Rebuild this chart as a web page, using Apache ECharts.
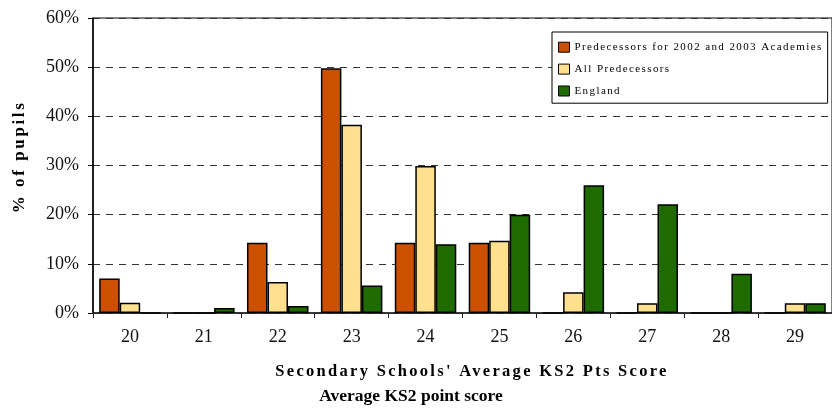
<!DOCTYPE html>
<html>
<head>
<meta charset="utf-8">
<script src="https://cdn.jsdelivr.net/npm/echarts@6/dist/echarts.min.js"></script>
<style>
  html, body { margin: 0; padding: 0; background: #fff; }
  #chart { width: 832px; height: 411px; }
</style>
</head>
<body>
<div id="chart"></div>
<script>
// Spaced-out lettering for the legend and the axis titles, keyed on font size.
(function () {
  const spacingBySize = { '11': '1.4px', '16.5': '2.3px', '17': '2.6px' };
  const proto = CanvasRenderingContext2D.prototype;
  if (!('letterSpacing' in proto)) return;
  const applySpacing = function (ctx) {
    const m = /(\d+(?:\.\d+)?)px/.exec(ctx.font);
    ctx.letterSpacing = (m && spacingBySize[m[1]]) || '0px';
  };
  const fill = proto.fillText, stroke = proto.strokeText, measure = proto.measureText;
  proto.fillText = function () { applySpacing(this); return fill.apply(this, arguments); };
  proto.strokeText = function () { applySpacing(this); return stroke.apply(this, arguments); };
  proto.measureText = function () { applySpacing(this); return measure.apply(this, arguments); };
})();

// KS2 average point score bands
const categories = ['20', '21', '22', '23', '24', '25', '26', '27', '28', '29'];

// % of pupils in each band
const predecessors0203 = [7.0, 0, 14.3, 49.8, 14.3, 14.3, 0, 0, 0, 0];
const allPredecessors  = [2.1, 0, 6.3, 38.3, 29.9, 14.7, 4.2, 2.0, 0, 2.0];
const england          = [0, 1.0, 1.4, 5.6, 14.0, 20.0, 26.0, 22.1, 8.0, 2.0];

const seriesNames = [
  'Predecessors for 2002 and 2003 Academies',
  'All Predecessors',
  'England'
];
const seriesColors = ['#CC5000', '#FFE08F', '#1E6B00'];

const yTicks = { min: 0, max: 60, interval: 10 };

const SERIF = '"Liberation Serif", "Times New Roman", serif';

const chart = echarts.init(document.getElementById('chart'), null, { renderer: 'canvas' });

function barSeries(name, data, color) {
  return {
    name: name,
    type: 'bar',
    data: data,
    barWidth: 20.5,
    barGap: '0%',
    itemStyle: { color: color, borderColor: '#000', borderWidth: 1.5 },
    emphasis: { disabled: true }
  };
}

chart.setOption({
  animation: false,
  backgroundColor: '#fff',
  textStyle: { fontFamily: SERIF },
  grid: {
    left: 93, right: -8, top: 18, bottom: 98,
    show: true, borderColor: '#000', borderWidth: 1, backgroundColor: 'transparent'
  },
  legend: {
    orient: 'vertical',
    left: 552, top: 32,
    icon: 'rect',
    itemWidth: 11, itemHeight: 10, itemGap: 9.5,
    padding: [9, 5, 6, 6],
    backgroundColor: '#fff',
    borderColor: '#000', borderWidth: 1,
    itemStyle: { borderColor: '#000', borderWidth: 1 },
    textStyle: { fontFamily: SERIF, fontSize: 11, color: '#000' },
    selectedMode: false,
    data: seriesNames
  },
  xAxis: {
    type: 'category',
    data: categories,
    axisLine: { lineStyle: { color: '#222', width: 1.5 } },
    axisTick: { show: true, length: 5, lineStyle: { color: '#222', width: 1 } },
    axisLabel: { fontFamily: SERIF, fontSize: 18, color: '#111', margin: 15 },
    splitLine: { show: false }
  },
  yAxis: {
    type: 'value',
    min: yTicks.min, max: yTicks.max, interval: yTicks.interval,
    axisLine: { show: true, lineStyle: { color: '#000', width: 1.5 } },
    axisTick: { show: true, length: 5, lineStyle: { color: '#000', width: 1 } },
    axisLabel: { fontFamily: SERIF, fontSize: 18, color: '#111', margin: 14, formatter: '{value}%' },
    splitLine: { show: true, lineStyle: { color: '#333', width: 1, type: [7, 6] } }
  },
  graphic: [
    {
      type: 'text', x: 20, y: 157, rotation: Math.PI / 2,
      style: {
        text: '% of pupils', font: 'bold 17px ' + SERIF, fill: '#000',
        textAlign: 'center', textVerticalAlign: 'middle'
      }
    },
    {
      type: 'text', x: 472, y: 372,
      style: {
        text: "Secondary Schools' Average KS2 Pts Score", font: 'bold 16.5px ' + SERIF, fill: '#000',
        textAlign: 'center', textVerticalAlign: 'middle'
      }
    },
    {
      type: 'text', x: 411, y: 396,
      style: {
        text: 'Average KS2 point score', font: 'bold 17.5px ' + SERIF, fill: '#000',
        textAlign: 'center', textVerticalAlign: 'middle'
      }
    }
  ],
  series: [
    barSeries(seriesNames[0], predecessors0203, seriesColors[0]),
    barSeries(seriesNames[1], allPredecessors, seriesColors[1]),
    barSeries(seriesNames[2], england, seriesColors[2])
  ]
});
</script>
</body>
</html>
